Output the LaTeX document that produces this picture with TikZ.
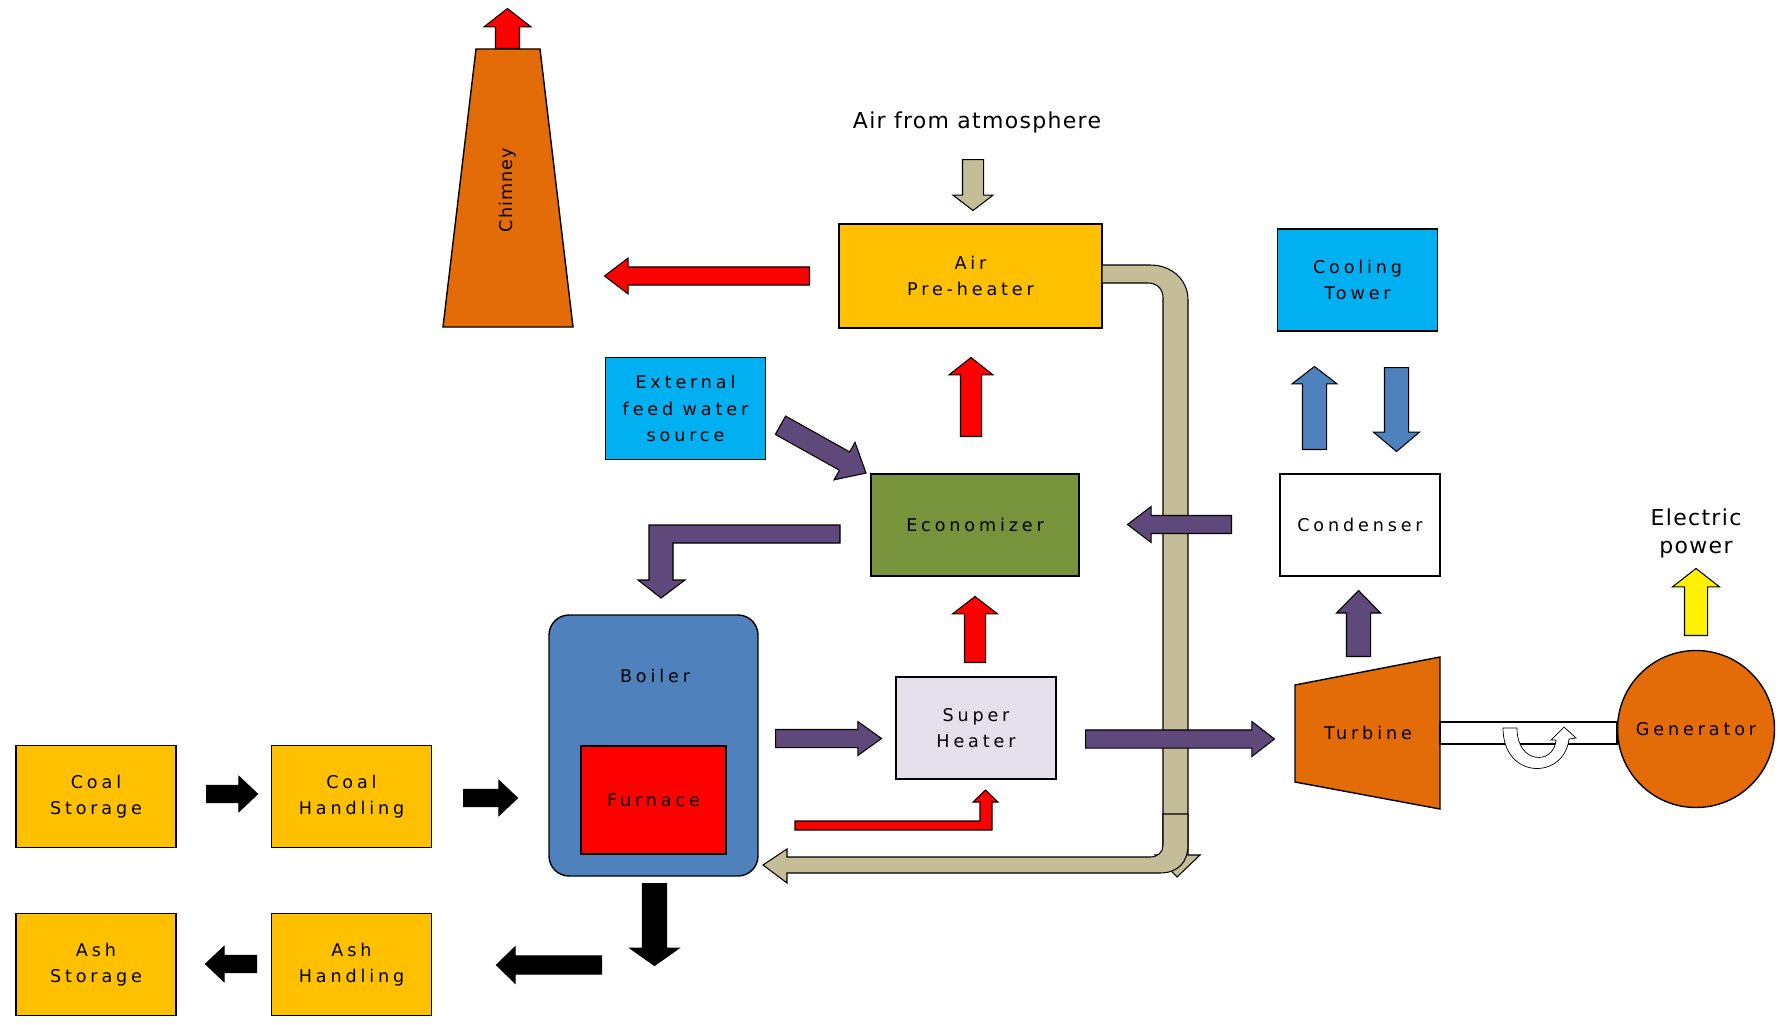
\documentclass[tikz,border=0pt]{standalone}
\usepackage{fontspec}
\setmainfont{DejaVu Sans}
\newfontfamily\boxfont[LetterSpace=22]{DejaVu Sans}
\newfontfamily\labelfont[LetterSpace=6]{DejaVu Sans}
\usepackage{tikz}
\usetikzlibrary{shapes.arrows}
\usepackage{xcolor}
\definecolor{coalyellow}{HTML}{FFC000}
\definecolor{watercyan}{HTML}{00B0F0}
\definecolor{ecogreen}{HTML}{77933C}
\definecolor{heaterlilac}{HTML}{E6E0EC}
\definecolor{stackorange}{HTML}{E36C09}
\definecolor{boilerblue}{HTML}{4F81BD}
\definecolor{airtan}{HTML}{C4BD97}
\definecolor{steampurple}{HTML}{5F497A}

\tikzset{
  unit/.style={draw=black, line width=0.8pt, align=center, inner sep=0pt,
    minimum width=3.2cm, minimum height=2.04cm, font=\boxfont\fontsize{10}{15}\selectfont},
  flow/.style n args={4}{single arrow, draw=black, line width=0.6pt, inner xsep=0pt,
    inner ysep={#2*0.01cm}, anchor=tail,
    minimum height=#1*0.02cm, minimum width=#3*0.02cm,
    single arrow head extend={(#3-#2)*0.01cm},
    /pgf/single arrow tip angle/.evaluated={2*atan((#3/2)/#4)}},
  pipe/.style={fill=airtan, draw=black, line width=0.6pt},
}

\begin{document}
\begin{tikzpicture}[x=0.02cm,y=-0.02cm]
  \useasboundingbox (0,0) rectangle (1781,1024);

  % %chimney
  \filldraw[fill=stackorange, draw=black, line width=0.8pt] (476,49) -- (540,49) -- (573,327) -- (443,327) -- cycle;
  \node[rotate=90, font=\labelfont\fontsize{10}{12}\selectfont] (Ch) at (508,190) {Chimney};

  % %air side
  \node[font=\labelfont\fontsize{12.5}{15}\selectfont] (AiAt) at (977,122) {Air from atmosphere};
  \node[unit,fill=coalyellow,minimum width=5.26cm,minimum height=2.08cm] (AiPr) at (970.5,276) {Air\\Pre-heater};

  % %water side
  \node[unit,fill=watercyan] (ExFe) at (685.5,408.5) {External\\feed water\\source};
  \node[unit,fill=ecogreen,minimum width=4.16cm] (Ec) at (975,525) {Economizer};
  \node[unit,fill=heaterlilac] (SuHe) at (976,728) {Super\\Heater};
  \node[unit,fill=watercyan] (CoTo) at (1357.5,280) {Cooling\\Tower};
  \node[unit,fill=white] (Co) at (1360,525) {Condenser};

  % %boiler
  \node[unit,fill=boilerblue,minimum width=4.18cm,minimum height=5.22cm,rounded corners=0.4cm] (Bo) at (653.5,745.5) {};
  \node[font=\boxfont\fontsize{10}{15}\selectfont] (BoLa) at (655,676) {Boiler};
  \node[unit,fill=red,minimum width=2.9cm,minimum height=2.16cm] (Fu) at (653.5,800) {Furnace};

  % %coal and ash
  \node[unit,fill=coalyellow] (CoSt) at (96,796.5) {Coal\\Storage};
  \node[unit,fill=coalyellow] (CoHa) at (351.5,796.5) {Coal\\Handling};
  \node[unit,fill=coalyellow] (AsSt) at (96,964.5) {Ash\\Storage};
  \node[unit,fill=coalyellow] (AsHa) at (351.5,964.5) {Ash\\Handling};

  % %turbine and generator
  \filldraw[fill=stackorange, draw=black, line width=0.8pt] (1295,685) -- (1440,657) -- (1440,809) -- (1295,782) -- cycle;
  \node[font=\boxfont\fontsize{10}{15}\selectfont] (Tu) at (1368,733) {Turbine};
  \draw[fill=white, line width=0.6pt] (1440,722) rectangle (1617,744);
  \filldraw[fill=white, draw=black, line width=0.4pt] (1503,728) -- (1517,728) .. controls (1517,765) and (1554,765) .. (1556,740)
    -- (1551,740) -- (1564,727) -- (1576,738) -- (1569,739) .. controls (1564,780) and (1503,780) .. (1503,728) -- cycle;
  \node[unit,circle,fill=stackorange,minimum size=3.14cm] (Ge) at (1696,729) {Generator};
  \node[font=\labelfont\fontsize{12.5}{16}\selectfont, align=center] (ElPo) at (1696,533) {Electric\\power};

  % %hot air pipe
  \filldraw[pipe] (1102,265) -- (1150,265) .. controls (1172,265) and (1188,280) .. (1188,300) -- (1188,855) -- (1200,855)
    -- (1177,877) -- (1155,855) -- (1163,855) -- (1163,298) .. controls (1163,289) and (1157,283) .. (1148,283) -- (1102,283) -- cycle;
  \filldraw[pipe] (1188,814) -- (1188,845) .. controls (1188,862) and (1178,873) .. (1160,873) -- (787,873) -- (787,883)
    -- (763,865) -- (787,849) -- (787,857) -- (1150,857) .. controls (1158,857) and (1163,852) .. (1163,845) -- (1163,814) -- cycle;

  % %flue gas
  \node[flow={40}{23}{46}{18},fill=red,rotate=90] (ChSm) at (507.5,49) {};
  \node[flow={205}{17}{35}{23},fill=red,rotate=180] (AiPrCh) at (810,276) {};
  \node[flow={79}{20}{43}{17},fill=red,rotate=90] (EcAiPr) at (971,437) {};
  \node[flow={66}{20}{44}{17},fill=red,rotate=90] (SuHeEc) at (975,663) {};
  \filldraw[fill=red, draw=black, line width=0.6pt] (795,821) -- (980,821) -- (980,802) -- (973,802) -- (985.5,790)
    -- (998,802) -- (992,802) -- (992,830) -- (795,830) -- cycle;
  \node[flow={51}{20}{39}{15},fill=airtan,rotate=-90] (AiAtAiPr) at (973,159) {};

  % %water and steam
  \node[flow={98}{20}{42}{24},fill=steampurple,rotate=-29.2] (ExFeEc) at (780,425) {};
  \filldraw[fill=steampurple, draw=black, line width=0.6pt] (840,525) -- (649,525) -- (649,580) -- (638,580) -- (661,598)
    -- (685,580) -- (673,580) -- (673,543) -- (840,543) -- cycle;
  \node[flow={106}{17}{33}{23},fill=steampurple] (BoSuHe) at (775,738.5) {};
  \node[flow={189}{17}{34}{22},fill=steampurple] (SuHeTu) at (1085,739) {};
  \node[flow={104}{17}{35}{23},fill=steampurple,rotate=180] (CoEc) at (1232,524.5) {};
  \node[flow={66}{23}{43}{22},fill=steampurple,rotate=90] (TuCo) at (1358.5,657) {};

  % %cooling water
  \node[flow={83}{23}{44}{17},fill=boilerblue,rotate=90] (CoCoTo) at (1314.5,450) {};
  \node[flow={84}{23}{45}{19},fill=boilerblue,rotate=-90] (CoToCo) at (1396.5,367) {};
  \node[flow={67}{22}{46}{18},fill=yellow,rotate=90] (GeElPo) at (1696,636) {};

  % %coal and ash flow
  \node[flow={51}{16}{34}{18},fill=black] (CoStCoHa) at (206,794) {};
  \node[flow={54}{16}{34}{18},fill=black] (CoHaBo) at (463,798) {};
  \node[flow={82}{23}{48}{17},fill=black,rotate=-90] (BoAs) at (654.5,883) {};
  \node[flow={105}{17}{35}{18},fill=black,rotate=180] (BoAsHa) at (602,965) {};
  \node[flow={51}{16}{34}{18},fill=black,rotate=180] (AsHaAsSt) at (257,964) {};

\end{tikzpicture}
\end{document}
